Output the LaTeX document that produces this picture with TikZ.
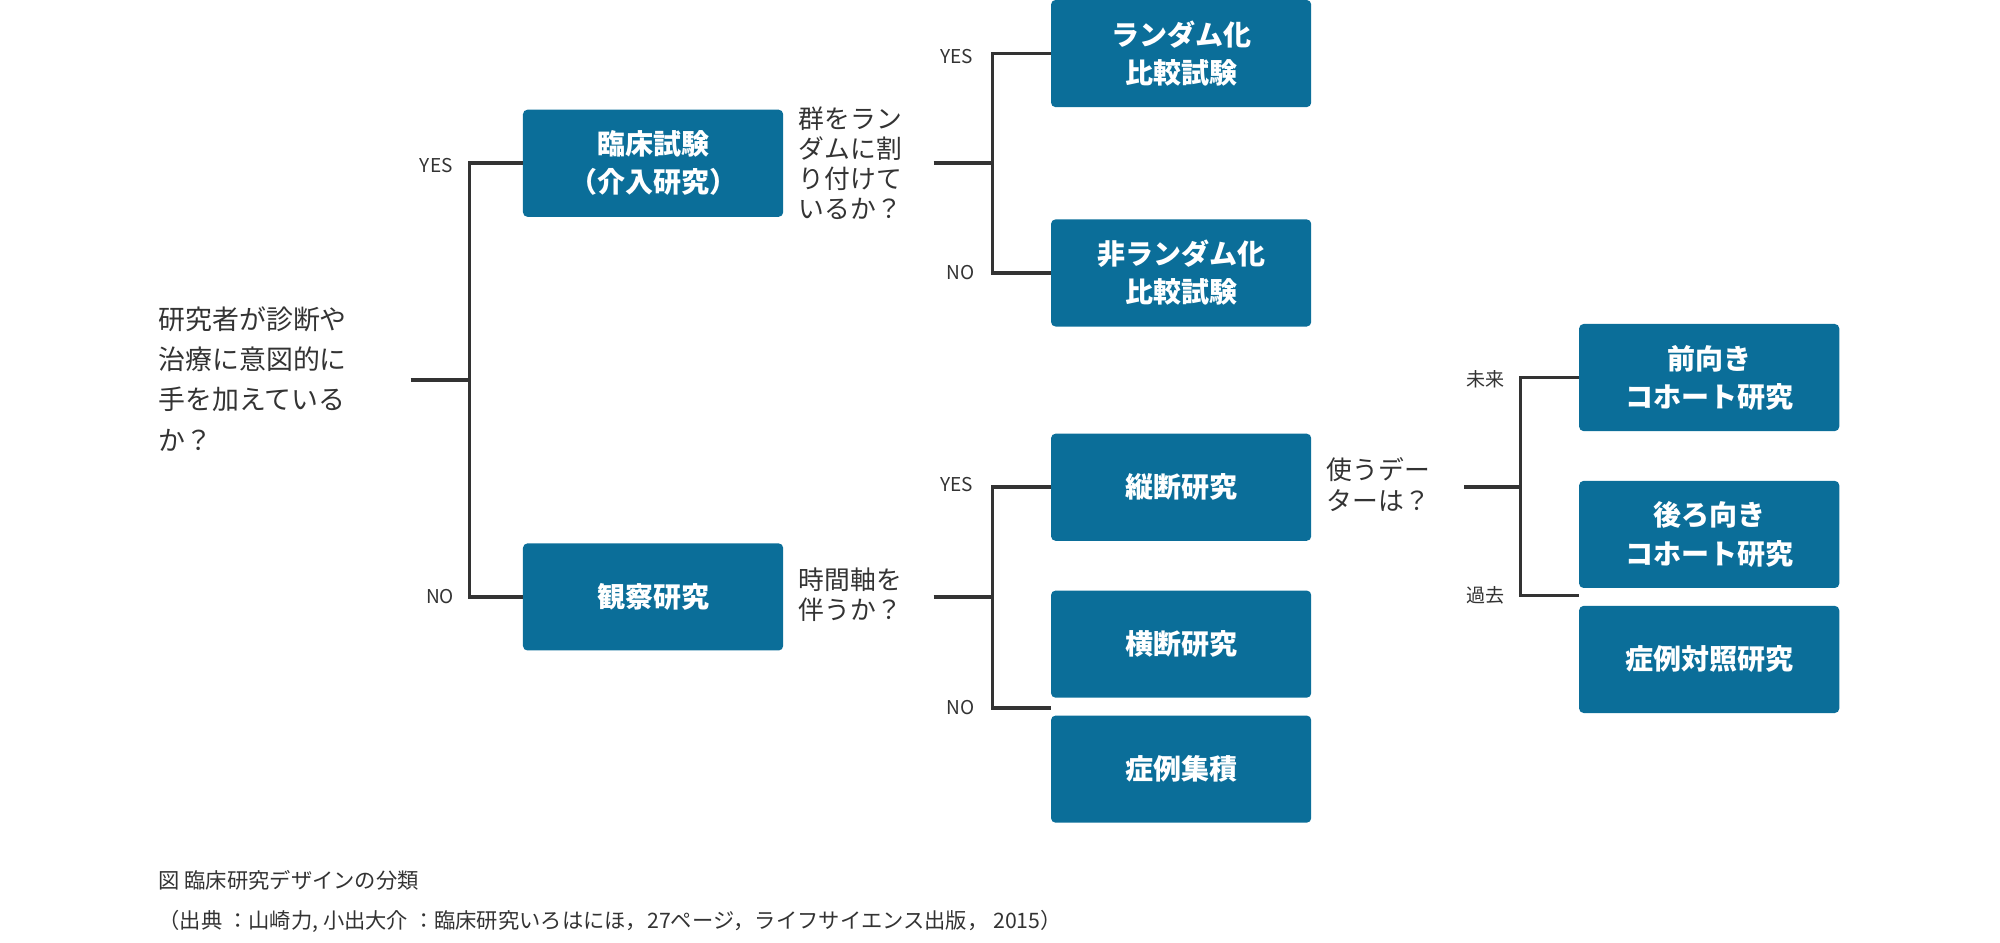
\documentclass[tikz,border=0pt]{standalone}
\usepackage{fontspec}
\setmainfont{Noto Sans CJK JP}
\newfontfamily\cjkbold{Noto Sans CJK JP}[BoldFont={* Bold}]
\definecolor{boxblue}{HTML}{0B6E99}
\definecolor{linegray}{HTML}{333333}
\begin{document}
\begin{tikzpicture}[x=0.02cm,y=-0.02cm,
    box/.style={fill=boxblue,rounded corners=2pt,minimum width=4.08cm,minimum height=1.68cm,
      text=white,align=center,font=\fontsize{12.5}{17}\selectfont\bfseries},
    ask/.style={align=left,anchor=west,text=linegray,inner sep=0pt},
    tag/.style={font=\fontsize{8.5}{10}\selectfont,text=linegray},
    link/.style={draw=linegray,line width=1.6pt}]
  \useasboundingbox (0,0) rectangle (1568,739);
  % boxes
  \node[box] (rct) at (926,42) {ランダム化\\比較試験};
  \node[box] (nrct) at (926,214) {非ランダム化\\比較試験};
  \node[box] (trial) at (512,128) {臨床試験\\（介入研究）};
  \node[box] (obs) at (512,468) {観察研究};
  \node[box] (long) at (926,382) {縦断研究};
  \node[box] (cross) at (926,505) {横断研究};
  \node[box] (series) at (926,603) {症例集積};
  \node[box] (pro) at (1340,296) {前向き\\コホート研究};
  \node[box] (retro) at (1340,419) {後ろ向き\\コホート研究};
  \node[box] (cc) at (1340,517) {症例対照研究};
  % questions
  \node[ask,font=\fontsize{12}{18}\selectfont] (q0) at (124,297) {研究者が診断や\\治療に意図的に\\手を加えている\\か？};
  \node[ask,font=\fontsize{11.5}{13.5}\selectfont] (q1) at (626,128) {群をラン\\ダムに割\\り付けて\\いるか？};
  \node[ask,font=\fontsize{11.5}{13.5}\selectfont] (q2) at (626,466) {時間軸を\\伴うか？};
  \node[ask,font=\fontsize{11.5}{13.5}\selectfont] (q3) at (1040,380) {使うデー\\ターは？};
  % junctions
  \coordinate (j0) at (368,298);
  \coordinate (j1) at (778,128);
  \coordinate (j2) at (778,468);
  \coordinate (j3) at (1192,382);
  \coordinate (n2) at (824,555);
  % connectors
  \draw[link] (322,298) -- (j0);
  \draw[link] (trial.west) -| (j0) |- (obs.west);
  \draw[link] (732,128) -- (j1);
  \draw[link] (rct.west) -| (j1) |- (nrct.west);
  \draw[link] (732,468) -- (j2);
  \draw[link] (long.west) -| (j2) |- (n2);
  \draw[link] (1148,382) -- (j3);
  \draw[link] (1238,296) -| (j3) |- (1238,467);
  % labels
  \node[tag] at (342,130) {YES};
  \node[tag] at (345,468) {NO};
  \node[tag] at (750,44) {YES};
  \node[tag] at (753,214) {NO};
  \node[tag] at (750,380) {YES};
  \node[tag] at (753,555) {NO};
  \node[tag] at (1165,297) {未来};
  \node[tag] at (1165,467) {過去};
  % caption
  \node[ask,font=\fontsize{9.5}{12}\selectfont] (cap1) at (124,690) {図 臨床研究デザインの分類};
  \node[ask,font=\fontsize{9.5}{12}\selectfont] (cap2) at (124,722) {（出典 ：山崎力, 小出大介 ：臨床研究いろはにほ，27ページ，ライフサイエンス出版， 2015）};
\end{tikzpicture}
\end{document}
